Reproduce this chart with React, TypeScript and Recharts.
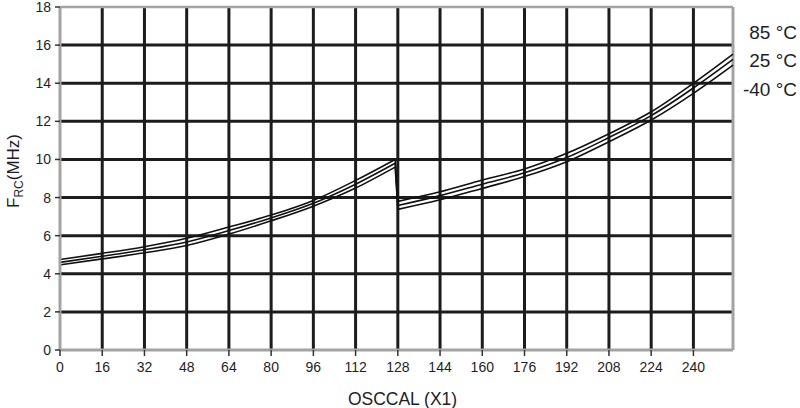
import { LineChart, Line, XAxis, YAxis, CartesianGrid, ReferenceLine } from "recharts";

// readings of the three temperature curves (MHz) at each OSCCAL value;
// the oscillator range switches between 127 and 128
const OSCCAL = [0, 16, 32, 48, 64, 80, 96, 112, 127, 128, 144, 160, 176, 192, 208, 224, 240, 255];
const F_85C = [4.75, 5.07, 5.42, 5.86, 6.45, 7.08, 7.85, 8.9, 10.0, 7.8, 8.3, 8.92, 9.5, 10.32, 11.35, 12.5, 14.0, 15.53];
const F_25C = [4.6, 4.92, 5.26, 5.67, 6.27, 6.93, 7.7, 8.7, 9.8, 7.58, 8.1, 8.7, 9.3, 10.1, 11.15, 12.3, 13.75, 15.25];
const F_M40C = [4.47, 4.78, 5.1, 5.48, 6.08, 6.78, 7.55, 8.5, 9.6, 7.38, 7.88, 8.48, 9.1, 9.88, 10.93, 12.07, 13.47, 14.95];
const SPLIT = 128;

const X_TICKS = [0, 16, 32, 48, 64, 80, 96, 112, 128, 144, 160, 176, 192, 208, 224, 240];
const Y_TICKS = [0, 2, 4, 6, 8, 10, 12, 14, 16, 18];
const GRID_X = [16, 32, 48, 64, 80, 96, 112, 128, 144, 160, 176, 192, 208, 224, 240];
const GRID_Y = [2, 4, 6, 8, 10, 12, 14, 16];
const TEMP_LABELS = ["85 °C", "25 °C", "-40 °C"];

const SERIES = [
  { key: "t85", values: F_85C },
  { key: "t25", values: F_25C },
  { key: "tm40", values: F_M40C },
];

// each curve is split into a low-range part, a high-range part and the straight drop between them
const data = OSCCAL.map((x, i) => {
  const row: Record<string, number | null> = { x };
  const lastLow = i < OSCCAL.length - 1 && OSCCAL[i + 1] >= SPLIT && x < SPLIT;
  SERIES.forEach((s) => {
    row[s.key + "Lo"] = x < SPLIT ? s.values[i] : null;
    row[s.key + "Hi"] = x >= SPLIT ? s.values[i] : null;
    row[s.key + "Drop"] = lastLow || x === SPLIT ? s.values[i] : null;
  });
  return row;
});

const FONT = "'Liberation Sans', Arial, sans-serif";
const INK = "#1e1e28";
const GRID = "#1c1c1c";
const BORDER = "#a3a3a3";

export default function App() {
  return (
    <div style={{ position: "absolute", left: 0, top: 0, width: 800, height: 408, background: "#fff", fontFamily: FONT }}>
      <LineChart width={800} height={408} data={data} margin={{ top: 7, right: 67, bottom: 0, left: 0 }}>
        <CartesianGrid stroke={GRID} strokeWidth={3} horizontalValues={GRID_Y} verticalValues={GRID_X} />
        <XAxis
          dataKey="x"
          type="number"
          domain={[0, 255]}
          ticks={X_TICKS}
          interval={0}
          height={58}
          axisLine={{ stroke: BORDER, strokeWidth: 3 }}
          tickLine={{ stroke: "#333", strokeWidth: 1.5 }}
          tickSize={6}
          tick={{ fill: INK, fontSize: 14, fontFamily: FONT }}
          tickMargin={6}
          label={{ value: "OSCCAL (X1)", position: "insideBottom", offset: 3, dx: 6, fill: INK, fontSize: 17.5, fontFamily: FONT }}
        />
        <YAxis
          type="number"
          domain={[0, 18]}
          ticks={Y_TICKS}
          interval={0}
          width={60}
          axisLine={{ stroke: BORDER, strokeWidth: 3 }}
          tickLine={{ stroke: "#333", strokeWidth: 1.5 }}
          tickSize={5}
          tick={{ fill: INK, fontSize: 14, fontFamily: FONT }}
          tickMargin={4}
        />
        <ReferenceLine y={18} stroke={BORDER} strokeWidth={2.5} />
        <ReferenceLine x={255} stroke={BORDER} strokeWidth={3} />
        {SERIES.map((s) => (
          <Line key={s.key + "Lo"} type="monotone" dataKey={s.key + "Lo"} stroke="#111" strokeWidth={1.6} dot={false} isAnimationActive={false} />
        ))}
        {SERIES.map((s) => (
          <Line key={s.key + "Hi"} type="monotone" dataKey={s.key + "Hi"} stroke="#111" strokeWidth={1.6} dot={false} isAnimationActive={false} />
        ))}
        {SERIES.map((s) => (
          <Line key={s.key + "Drop"} type="linear" dataKey={s.key + "Drop"} stroke="#111" strokeWidth={1.6} dot={false} isAnimationActive={false} />
        ))}
      </LineChart>

      {/* y axis title with subscript */}
      <svg width={30} height={160} style={{ position: "absolute", left: 0, top: 91 }}>
        <text transform="translate(19,80) rotate(-90)" textAnchor="middle" fill={INK} fontSize={17} fontFamily={FONT}>
          F<tspan fontSize={12} dy={4}>RC</tspan>
          <tspan dy={-4}>(MHz)</tspan>
        </text>
      </svg>

      {/* temperature labels */}
      {TEMP_LABELS.map((t, i) => (
        <div
          key={t}
          style={{
            position: "absolute",
            right: 3,
            top: [22, 50, 79][i],
            fontSize: 19,
            color: INK,
            fontFamily: FONT,
            lineHeight: "22px",
          }}
        >
          {t}
        </div>
      ))}
    </div>
  );
}
